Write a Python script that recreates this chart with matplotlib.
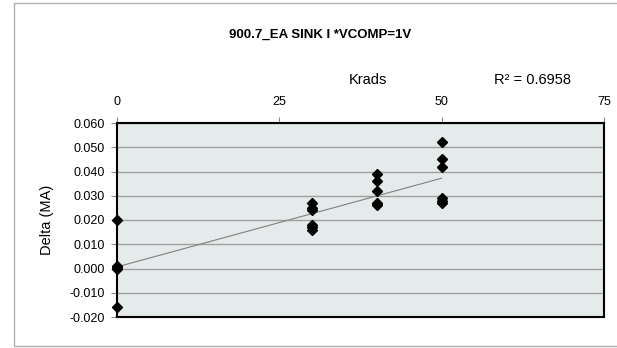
import numpy as np
import matplotlib
matplotlib.use("Agg")
import matplotlib.pyplot as plt
from matplotlib.patches import Rectangle

plt.rcParams['font.family'] = ['Liberation Sans', 'DejaVu Sans']

# data (Krads vs delta)
krads_0 = [0, 0, 0, 0, 0, 0]
delta_0 = [0.020, 0.001, 0.0005, 0.000, 0.0005, -0.016]
krads_30 = [30, 30, 30, 30, 30, 30]
delta_30 = [0.027, 0.025, 0.024, 0.018, 0.017, 0.016]
krads_40 = [40, 40, 40, 40, 40, 40]
delta_40 = [0.039, 0.036, 0.032, 0.027, 0.026, 0.0265]
krads_50 = [50, 50, 50, 50, 50, 50]
delta_50 = [0.052, 0.045, 0.042, 0.029, 0.028, 0.027]

x_ticks = [0, 25, 50, 75]
y_ticks = [-0.02, -0.01, 0.0, 0.01, 0.02, 0.03, 0.04, 0.05, 0.06]

x = np.array(krads_0 + krads_30 + krads_40 + krads_50, dtype=float)
y = np.array(delta_0 + delta_30 + delta_40 + delta_50)

W, H = 617, 348
fig = plt.figure(figsize=(W / 100, H / 100), dpi=100)

# outer chart border
fig.patches.append(Rectangle((14 / W, 1 - 346 / H), 620 / W, 343 / H,
                             transform=fig.transFigure, fill=False,
                             edgecolor='#b0b0b0', linewidth=1.0))

left, right, top, bottom = 117, 604, 123, 317
ax = fig.add_axes([left / W, 1 - bottom / H, (right - left) / W, (bottom - top) / H])
ax.set_facecolor('#e5eaea')

ax.set_xlim(0, 75)
ax.set_ylim(-0.02, 0.06)
ax.set_xticks(x_ticks)
ax.set_yticks(y_ticks)
ax.set_yticklabels(['%.3f' % v for v in y_ticks])
ax.xaxis.tick_top()
ax.tick_params(axis='both', labelsize=9, colors='black', length=4, width=0.8,
               direction='out')
ax.tick_params(axis='both', color='#888888')
ax.tick_params(axis='x', pad=7)
ax.tick_params(axis='y', pad=5)

ax.grid(axis='y', color='#a0a0a0', linewidth=1.0)
ax.set_axisbelow(True)
for s in ax.spines.values():
    s.set_linewidth(1.5)
    s.set_color('black')

# linear trendline
slope, intercept = np.polyfit(x, y, 1)
xl = np.array([0, 50])
ax.plot(xl, slope * xl + intercept, color='#808080', linewidth=0.8, zorder=3)

ax.plot(x, y, linestyle='none', marker='D', markersize=5, color='black',
        clip_on=False, zorder=4)

ax.set_ylabel('Delta (MA)', fontsize=10.5, labelpad=11)

fig.text(320 / W, 1 - 35 / H, '900.7_EA SINK I *VCOMP=1V', ha='center',
         va='center', fontsize=9.5, fontweight='bold')
fig.text(368 / W, 1 - 80 / H, 'Krads', ha='center', va='center', fontsize=10.5)
fig.text(532 / W, 1 - 80 / H, 'R² = 0.6958', ha='center', va='center',
         fontsize=10.5)

plt.savefig('out.png', dpi=100)
